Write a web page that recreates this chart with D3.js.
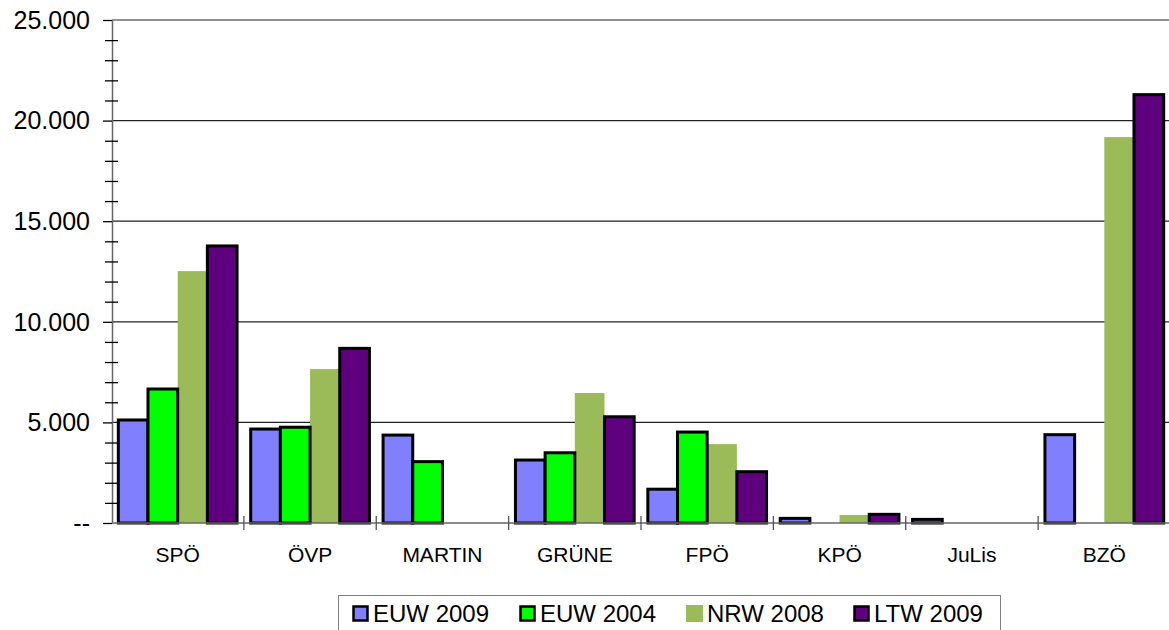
<!DOCTYPE html>
<html>
<head>
<meta charset="utf-8">
<script src="https://cdn.jsdelivr.net/npm/d3@7"></script>
<style>
  body { margin: 0; background: #fff; }
  svg { display: block; font-family: "Liberation Sans", Arial, sans-serif; }
</style>
</head>
<body>
<svg id="canvas" width="1169" height="630"></svg>
<script>
let parties = ['SPÖ', 'ÖVP', 'MARTIN', 'GRÜNE', 'FPÖ', 'KPÖ', 'JuLis', 'BZÖ']
let seriesNames = ['EUW 2009', 'EUW 2004', 'NRW 2008', 'LTW 2009']
let euw2009 = [5120, 4670, 4370, 3130, 1680, 230, 180, 4390]
let euw2004 = [6660, 4760, 3050, 3490, 4520, 0, 0, 0]
let nrw2008 = [12520, 7650, 0, 6460, 3920, 400, 0, 19180]
let ltw2009 = [13770, 8680, 0, 5280, 2550, 430, 0, 21290]
let yTicks = [0, 5000, 10000, 15000, 20000, 25000]
let colors = ['#8080ff', '#00ff00', '#9bbb59', '#5f007f']
let hasBorder = [true, true, false, true]

let values = [euw2009, euw2004, nrw2008, ltw2009]

let canvas = d3.select('#canvas')

let x = d3.scaleBand().domain(parties).range([111.5, 1170.5]).padding(0)
let xs = d3.scaleBand().domain(seriesNames).range([0, x.bandwidth()]).paddingInner(0).paddingOuter(0.23)
let y = d3.scaleLinear().domain([0, 25000]).range([523, 20])

let de = d3.formatLocale({ decimal: ',', thousands: '.', grouping: [3], currency: ['', ' €'] })
let fmt = (v) => v === 0 ? '--' : de.format(',')(v)

// gridlines
canvas.append('g')
  .selectAll('line')
  .data(yTicks.filter(d => d > 0))
  .enter()
  .append('line')
  .attr('x1', 112).attr('x2', 1169)
  .attr('y1', d => y(d)).attr('y2', d => y(d))
  .attr('stroke', '#222')
  .attr('stroke-width', 1.2)

// bars (olive first, so neighbours' borders stay on top)
let drawOrder = [2, 0, 1, 3]
drawOrder.forEach((s) => {
  canvas.append('g')
    .selectAll('rect')
    .data(values[s].map((v, i) => ({ party: parties[i], value: v })).filter(d => d.value > 0))
    .enter()
    .append('rect')
    .attr('x', d => x(d.party) + xs(seriesNames[s]))
    .attr('width', xs.bandwidth())
    .attr('y', d => y(d.value))
    .attr('height', d => y(0) - y(d.value))
    .attr('fill', colors[s])
    .attr('stroke', hasBorder[s] ? '#000' : 'none')
    .attr('stroke-width', 3)
})

// y axis
let yAxis = d3.axisLeft(y)
  .tickValues(d3.range(0, 25001, 1000))
  .tickSize(0)
  .tickFormat('')
let yg = canvas.append('g').attr('transform', 'translate(112,0)').call(yAxis)
yg.select('.domain').attr('stroke', '#666').attr('stroke-width', 1.5)
yg.selectAll('.tick line')
  .attr('x1', d => d % 5000 === 0 ? -9 : -7)
  .attr('x2', d => d % 5000 === 0 ? 0 : 6)
  .attr('stroke', '#000')
  .attr('stroke-width', 1.3)

canvas.append('g')
  .selectAll('text')
  .data(yTicks)
  .enter()
  .append('text')
  .attr('x', 90)
  .attr('y', d => y(d))
  .attr('dy', '0.35em')
  .attr('text-anchor', 'end')
  .attr('font-size', 25)
  .attr('fill', '#000')
  .text(fmt)

// x axis
let xg = canvas.append('g').attr('transform', 'translate(0,523)')
xg.append('line')
  .attr('x1', 112).attr('x2', 1169)
  .attr('stroke', '#666').attr('stroke-width', 1.5)
xg.selectAll('.cat-tick')
  .data(parties.slice(1))
  .enter()
  .append('line')
  .attr('class', 'cat-tick')
  .attr('x1', d => x(d)).attr('x2', d => x(d))
  .attr('y1', -7).attr('y2', 7)
  .attr('stroke', '#555').attr('stroke-width', 1.3)
xg.selectAll('text')
  .data(parties)
  .enter()
  .append('text')
  .attr('x', d => x(d) + x.bandwidth() / 2)
  .attr('y', 39)
  .attr('text-anchor', 'middle')
  .attr('font-size', 21)
  .attr('fill', '#000')
  .text(d => d)

// legend
let legend = canvas.append('g')
legend.append('rect')
  .attr('x', 338.5).attr('y', 595.5)
  .attr('width', 662).attr('height', 50)
  .attr('fill', '#fff')
  .attr('stroke', '#808080')
  .attr('stroke-width', 1)
let legendX = d3.scalePoint().domain(seriesNames).range([352, 853])
let item = legend.selectAll('.item')
  .data(seriesNames)
  .enter()
  .append('g')
  .attr('class', 'item')
  .attr('transform', d => 'translate(' + legendX(d) + ',0)')
item.append('rect')
  .attr('x', (d, i) => hasBorder[i] ? 1.5 : 0)
  .attr('y', (d, i) => hasBorder[i] ? 606.5 : 605)
  .attr('width', (d, i) => hasBorder[i] ? 14 : 17)
  .attr('height', (d, i) => hasBorder[i] ? 14 : 17)
  .attr('fill', (d, i) => colors[i])
  .attr('stroke', (d, i) => hasBorder[i] ? '#000' : 'none')
  .attr('stroke-width', 2.5)
item.append('text')
  .attr('x', 21)
  .attr('y', 621.5)
  .attr('font-size', 24)
  .attr('fill', '#000')
  .text(d => d)
</script>
</body>
</html>
